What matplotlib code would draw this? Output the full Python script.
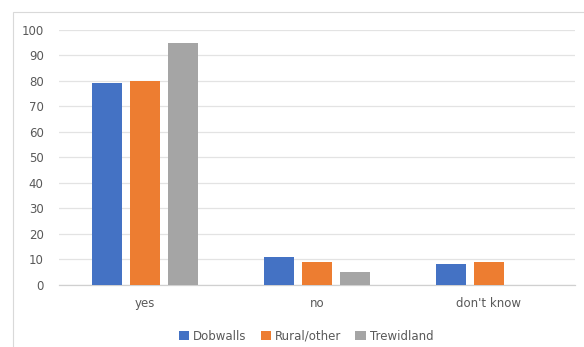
import numpy as np
import matplotlib.pyplot as plt
from matplotlib.patches import Rectangle

# --- data ---
categories = ["yes", "no", "don't know"]
series_names = ["Dobwalls", "Rural/other", "Trewidland"]
dobwalls = [79, 11, 8]
rural_other = [80, 9, 9]
trewidland = [95, 5, 0]
y_ticks = [0, 10, 20, 30, 40, 50, 60, 70, 80, 90, 100]

colors = ["#4472C4", "#ED7D31", "#A5A5A5"]
text_col = "#595959"

W, H = 584, 347
fig = plt.figure(figsize=(W / 100, H / 100), dpi=100)

# light chart border (cut off at right/bottom like the screenshot)
fig.patches.append(Rectangle((13 / W, -0.1), 1.2, 1 - 12 / H + 0.1,
                             transform=fig.transFigure, fill=False,
                             edgecolor="#D9D9D9", linewidth=0.8))

ax = fig.add_axes([59 / W, (H - 284.5) / H, (575 - 59) / W, (284.5 - 30) / H])

x = np.arange(len(categories))
bar_w = 0.175
step = 0.221
for i, (name, vals) in enumerate(zip(series_names, [dobwalls, rural_other, trewidland])):
    ax.bar(x + (i - 1) * step, vals, width=bar_w, color=colors[i], label=name, zorder=3)

ax.set_xlim(-0.5, 2.5)
ax.set_ylim(0, 100)
ax.set_yticks(y_ticks)
ax.set_xticks(x)
ax.set_xticklabels(categories)
ax.tick_params(axis="both", length=0, labelsize=8.5, colors=text_col)
ax.tick_params(axis="y", pad=11)
ax.tick_params(axis="x", pad=9)

ax.grid(axis="y", color="#E3E3E3", linewidth=0.9, zorder=0)
for s in ["top", "right", "left"]:
    ax.spines[s].set_visible(False)
ax.spines["bottom"].set_color("#D0D0D0")
ax.spines["bottom"].set_linewidth(0.9)

leg = fig.legend(loc="center", bbox_to_anchor=(306 / W, (H - 336) / H), ncol=3,
                 frameon=False, fontsize=8.5, handlelength=0.9, handleheight=0.9,
                 handletextpad=0.3, columnspacing=1.2, labelcolor=text_col)

fig.savefig("out.png", dpi=100)
